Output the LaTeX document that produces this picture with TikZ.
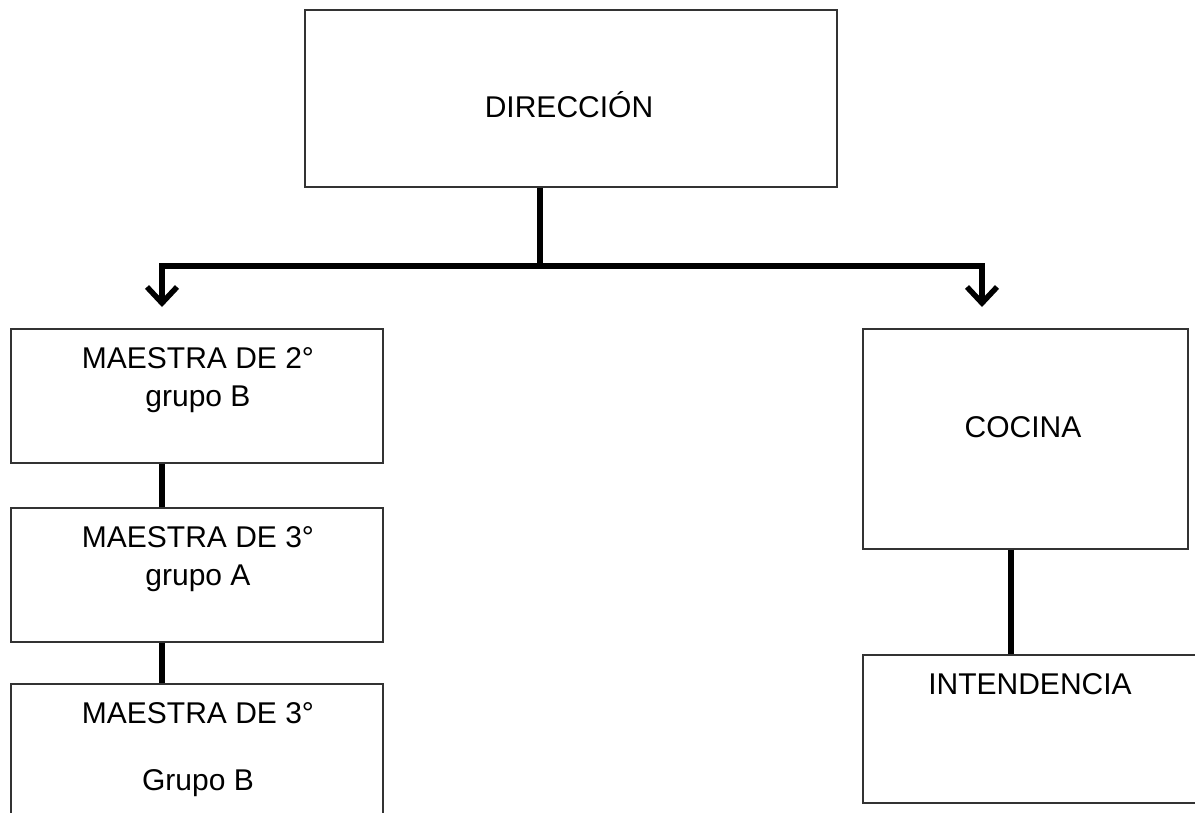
\documentclass[tikz,border=0pt]{standalone}
\usepackage{fontspec}
\setmainfont{Liberation Sans}
\usetikzlibrary{arrows.meta}
\tikzset{
  box/.style={draw=black!80, line width=1.5pt, fill=white, rectangle, anchor=north west, inner sep=0pt},
  lbl/.style={anchor=base, inner sep=0pt, font=\fontsize{30}{36}\selectfont},
  conn/.style={line width=5.5pt, black},
  arr/.style={conn, -{Straight Barb[length=16pt, width=30pt]}},
}
\begin{document}
\begin{tikzpicture}[x=1pt, y=-1pt]
\useasboundingbox (0,0) rectangle (1195,812);
\clip (0,0) rectangle (1195,812);
\fill[white] (0,0) rectangle (1195,812);
% boxes
\node[box, minimum width=532pt, minimum height=177pt] (dir) at (304,9) {};
\node[box, minimum width=372pt, minimum height=134pt] (m2b) at (10,328) {};
\node[box, minimum width=372pt, minimum height=134pt] (m3a) at (10,507) {};
\node[box, minimum width=372pt, minimum height=140pt] (m3b) at (10,683) {};
\node[box, minimum width=325pt, minimum height=220pt] (coc) at (862,328) {};
\node[box, minimum width=345pt, minimum height=148pt] (int) at (862,654) {};
% texts
\node[lbl] (tdir) at (569,117) {DIRECCIÓN};
\node[lbl] (tm2b1) at (198,368) {MAESTRA DE 2°};
\node[lbl] (tm2b2) at (198,406) {grupo B};
\node[lbl] (tm3a1) at (198,547) {MAESTRA DE 3°};
\node[lbl] (tm3a2) at (198,585) {grupo A};
\node[lbl] (tm3b1) at (198,723) {MAESTRA DE 3°};
\node[lbl] (tm3b2) at (198,790) {Grupo B};
\node[lbl] (tcoc) at (1023,437) {COCINA};
\node[lbl] (tint) at (1030,694) {INTENDENCIA};
% connectors
\coordinate (j) at (540,266);
\coordinate (jl) at (162,266);
\coordinate (jr) at (982,266);
\coordinate (al) at (162,307);
\coordinate (ar) at (982,307);
\draw[conn] (dir.south -| j) -- (j);
\draw[arr] (j) -- (jl) -- (al);
\draw[arr] (j) -- (jr) -- (ar);
\draw[conn] (m2b.south -| jl) -- (m3a.north -| jl);
\draw[conn] (m3a.south -| jl) -- (m3b.north -| jl);
\coordinate (cx) at (1011,0);
\draw[conn] (coc.south -| cx) -- (int.north -| cx);
\end{tikzpicture}
\end{document}
